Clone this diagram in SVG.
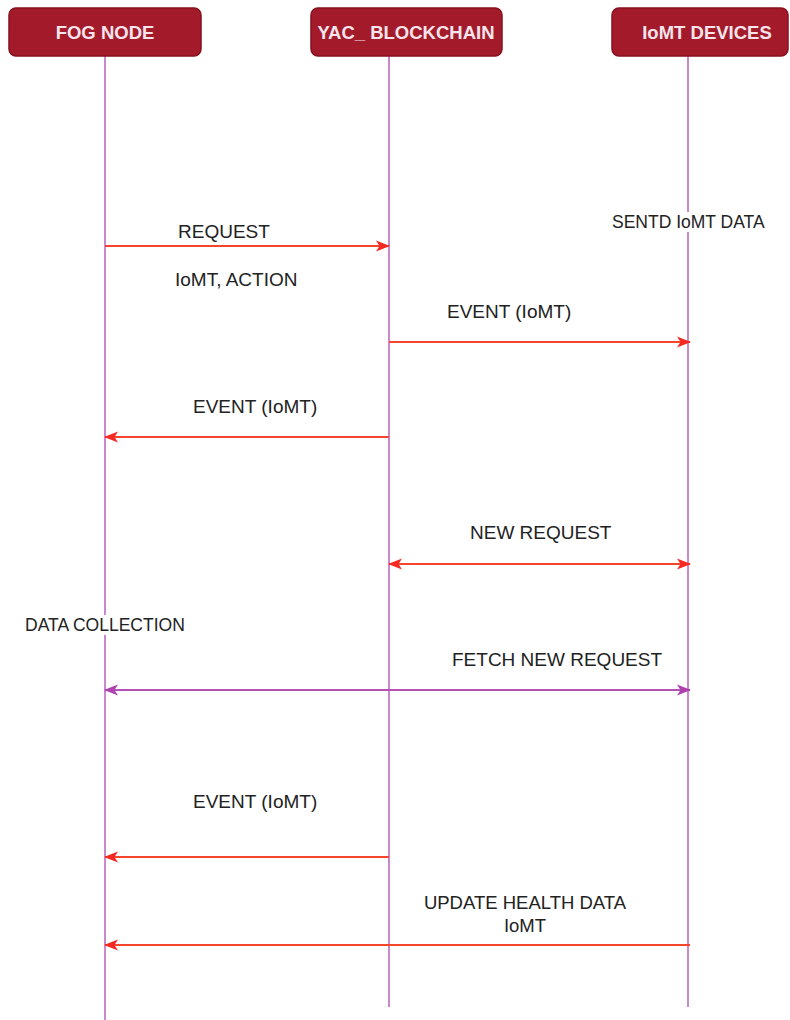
<svg xmlns="http://www.w3.org/2000/svg" width="790" height="1020" viewBox="0 0 790 1020">
<style>
.box{fill:#a31b2a;stroke:#86121f;stroke-width:1.5}
.bt{font-family:"Liberation Sans",Arial,sans-serif;font-weight:bold;font-size:18.5px;fill:#f7e4ec;text-anchor:middle}
.life{stroke:#cc88cc;stroke-width:2;fill:none}
.msg{stroke:#f5452f;stroke-width:2;fill:none}
.msgp{stroke:#b551b5;stroke-width:2;fill:none}
.lbl{font-family:"Liberation Sans",Arial,sans-serif;font-size:19px;fill:#222}
.sm{font-size:17.5px}
.bg{fill:#fff}
</style>
<defs>
<marker id="ah" viewBox="0 0 14 14" refX="13" refY="7" markerWidth="14" markerHeight="14" markerUnits="userSpaceOnUse" orient="auto-start-reverse">
<path d="M0,1.5 L14,7 L0,12.5 L3.5,7 Z" fill="#f42a22"/>
</marker>
<marker id="ahp" viewBox="0 0 14 14" refX="13" refY="7" markerWidth="14" markerHeight="14" markerUnits="userSpaceOnUse" orient="auto-start-reverse">
<path d="M0,1.5 L14,7 L0,12.5 L3.5,7 Z" fill="#b040b0"/>
</marker>
</defs>
<rect width="790" height="1020" fill="#fff"/>

<g id="lifelines">
<line class="life" x1="105" y1="56" x2="105" y2="1020"/>
<line class="life" x1="389" y1="56" x2="389" y2="1007"/>
<line class="life" x1="688" y1="56" x2="688" y2="1007"/>
</g>

<g id="node-fog">
<rect class="box" x="9" y="8" width="192" height="48" rx="7"/>
<text class="bt" x="105" y="39">FOG NODE</text>
</g>
<g id="node-yac">
<rect class="box" x="311" y="8" width="191" height="48" rx="7"/>
<text class="bt" x="406" y="39">YAC_ BLOCKCHAIN</text>
</g>
<g id="node-iomt">
<rect class="box" x="612" y="8" width="176" height="48" rx="7"/>
<text class="bt" x="707" y="39">IoMT DEVICES</text>
</g>

<g id="connectors">
<line class="msg" x1="105" y1="246" x2="389" y2="246" marker-end="url(#ah)"/>
<line class="msg" x1="389" y1="342" x2="690" y2="342" marker-end="url(#ah)"/>
<line class="msg" x1="389" y1="437" x2="105" y2="437" marker-end="url(#ah)"/>
<line class="msg" x1="389" y1="564" x2="690" y2="564" marker-start="url(#ah)" marker-end="url(#ah)"/>
<line class="msgp" x1="105" y1="690" x2="690" y2="690" marker-start="url(#ahp)" marker-end="url(#ahp)"/>
<line class="msg" x1="389" y1="857" x2="105" y2="857" marker-end="url(#ah)"/>
<line class="msg" x1="690" y1="945" x2="105" y2="945" marker-end="url(#ah)"/>
</g>

<g id="labels">
<text class="lbl" x="178" y="238">REQUEST</text>
<text class="lbl" x="175" y="286">IoMT, ACTION</text>
<rect class="bg" x="610" y="212" width="160" height="20"/>
<text class="lbl" x="612" y="228" style="font-size:17.5px">SENTD IoMT DATA</text>
<text class="lbl" x="447" y="318">EVENT (IoMT)</text>
<text class="lbl" x="193" y="413">EVENT (IoMT)</text>
<text class="lbl" x="470" y="539">NEW REQUEST</text>
<rect class="bg" x="22" y="615" width="168" height="20"/>
<text class="lbl sm" x="25" y="631">DATA COLLECTION</text>
<text class="lbl" x="452" y="666">FETCH NEW REQUEST</text>
<text class="lbl" x="193" y="808">EVENT (IoMT)</text>
<text class="lbl" x="525" y="909" text-anchor="middle" style="font-size:18.5px">UPDATE HEALTH DATA</text>
<text class="lbl" x="525" y="932" text-anchor="middle" style="font-size:18.5px">IoMT</text>
</g>
</svg>
